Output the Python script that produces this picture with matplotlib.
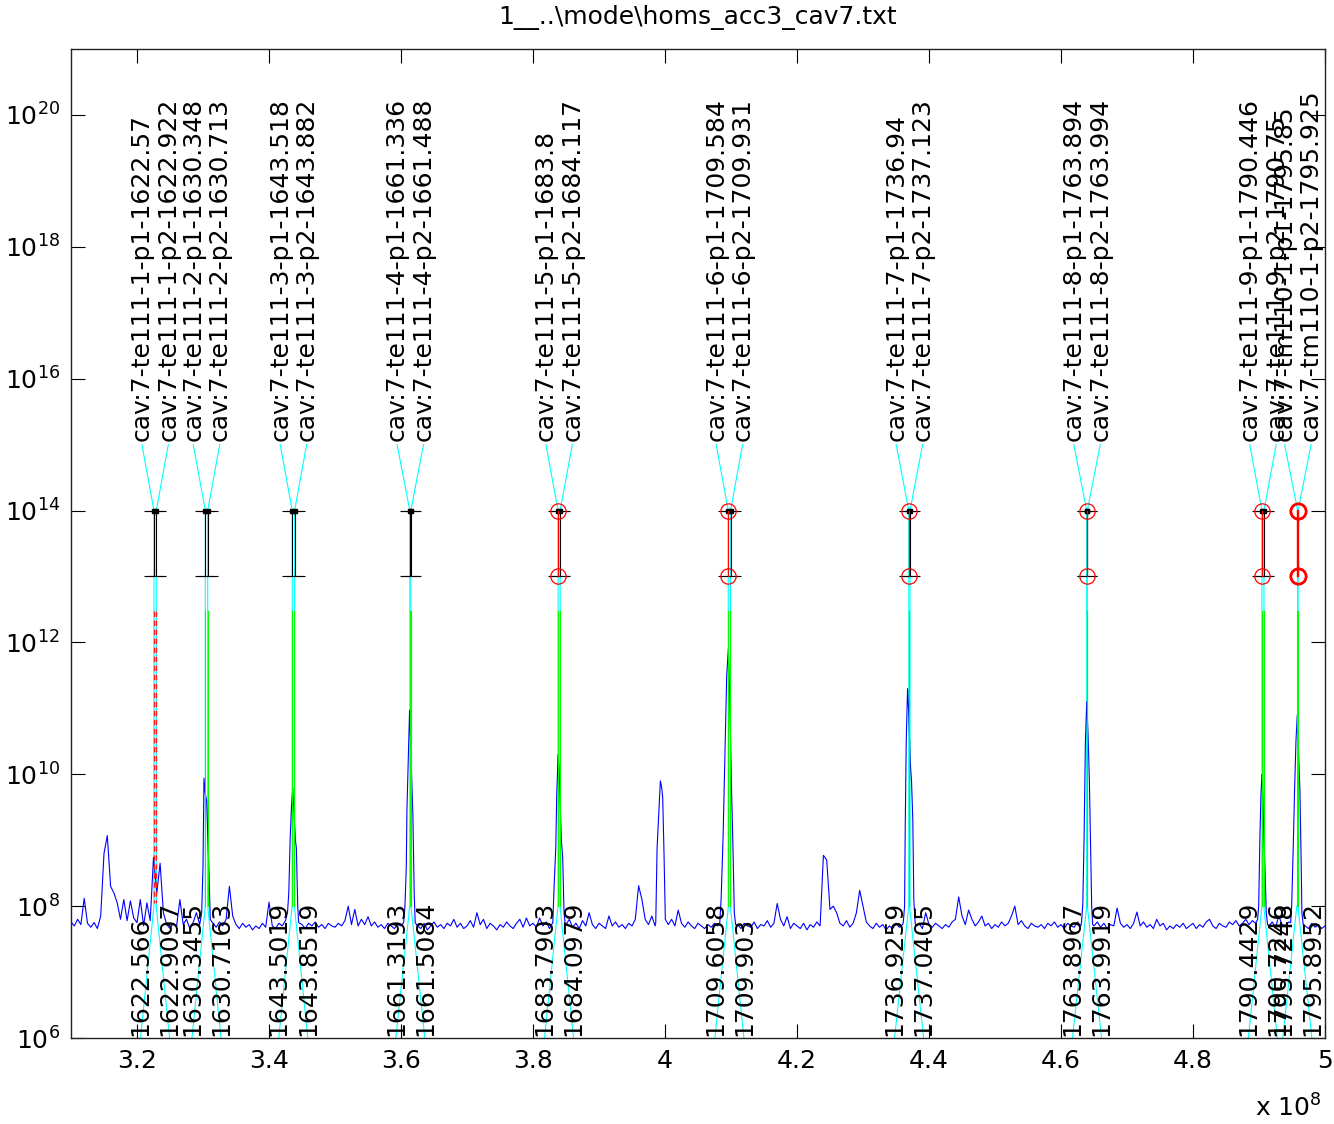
import numpy as np
import matplotlib
matplotlib.use('Agg')
import matplotlib.pyplot as plt
from matplotlib.ticker import FixedLocator, NullLocator

plt.rcParams['font.family'] = ['DejaVu Sans']
plt.rcParams['mathtext.default'] = 'regular'

TITLE = r"1__..\mode\homs_acc3_cav7.txt"
LO_MHZ = 1300.0  # mixer offset: axis = (f - LO) in Hz

# ---- mode table (predicted / measured, MHz) ----
mode_names = ['te111-1-p1', 'te111-1-p2', 'te111-2-p1', 'te111-2-p2',
              'te111-3-p1', 'te111-3-p2', 'te111-4-p1', 'te111-4-p2',
              'te111-5-p1', 'te111-5-p2', 'te111-6-p1', 'te111-6-p2',
              'te111-7-p1', 'te111-7-p2', 'te111-8-p1', 'te111-8-p2',
              'te111-9-p1', 'te111-9-p2', 'tm110-1-p1', 'tm110-1-p2']
pred_freq = ['1622.57', '1622.922', '1630.348', '1630.713',
             '1643.518', '1643.882', '1661.336', '1661.488',
             '1683.8', '1684.117', '1709.584', '1709.931',
             '1736.94', '1737.123', '1763.894', '1763.994',
             '1790.446', '1790.75', '1795.85', '1795.925']
meas_freq = ['1622.566', '1622.9097', '1630.3455', '1630.7163',
             '1643.5019', '1643.8519', '1661.3193', '1661.5084',
             '1683.7903', '1684.0979', '1709.6058', '1709.903',
             '1736.9259', '1737.0405', '1763.8967', '1763.9919',
             '1790.4429', '1790.7246', '1795.7248', '1795.8952']
# 0 = not matched, 1 = matched, 2 = matched + fitted, 3 = fitted only
status = [0, 0, 1, 1, 1, 1, 1, 1, 2, 1, 2, 1, 2, 1, 2, 1, 2, 1, 3, 3]
bar_low = 1e13
bar_high = 1e14

# ---- measured spectrum: log10 amplitude on a 0.5 MHz grid from 310 MHz ----
spec_start_mhz = 310.0
spec_step_mhz = 0.5
spec_log = [
    7.76, 7.70, 7.80, 7.72, 8.12, 7.74, 7.68, 7.75, 7.66, 7.85, 8.80, 9.07, 8.30, 8.20, 8.05, 7.80, 8.10, 7.78, 8.08, 7.82,
    7.75, 8.10, 7.70, 8.05, 7.78, 8.74, 8.20, 8.65, 7.90, 7.72, 7.66, 7.74, 7.70, 8.10, 7.72, 7.80, 7.66, 7.75, 7.90, 7.72,
    7.72, 7.72, 7.72, 7.74, 7.68, 7.76, 7.70, 7.80, 8.30, 7.85, 7.72, 7.66, 7.74, 7.68, 7.72, 7.64, 7.70, 7.66, 7.74, 7.68,
    8.06, 7.70, 7.66, 7.74, 7.70, 7.78, 7.70, 7.70, 7.70, 7.70, 7.72, 7.66, 7.74, 7.70, 7.76, 7.68, 7.72, 7.66, 7.74, 7.70,
    7.68, 7.74, 7.70, 7.78, 8.00, 7.72, 7.95, 7.70, 7.80, 7.72, 7.84, 7.70, 7.76, 7.68, 7.72, 7.66, 7.74, 7.70, 7.66, 7.72,
    7.70, 7.70, 7.70, 7.70, 7.70, 7.70, 7.66, 7.74, 7.64, 7.70, 7.76, 7.68, 7.72, 7.66, 7.74, 7.70, 7.80, 7.68, 7.74, 7.66,
    7.70, 7.78, 7.68, 7.90, 7.72, 7.80, 7.66, 7.74, 7.70, 7.64, 7.72, 7.68, 7.76, 7.70, 7.66, 7.74, 7.80, 7.68, 7.82, 7.70,
    7.74, 7.68, 7.82, 7.70, 7.76, 7.66, 7.70, 7.70, 7.70, 7.70, 7.72, 7.80, 7.68, 7.74, 7.66, 7.78, 7.70, 7.90, 7.72, 7.66,
    7.74, 7.70, 7.66, 7.85, 7.70, 7.76, 7.68, 7.72, 7.66, 7.74, 7.70, 7.80, 8.31, 8.10, 7.80, 7.72, 7.85, 7.70, 7.70, 7.70,
    7.70, 7.72, 7.80, 7.70, 7.94, 7.74, 7.68, 7.76, 7.70, 7.66, 7.74, 7.70, 7.66, 7.72, 7.68, 7.74, 7.70, 7.70, 7.70, 7.70,
    7.70, 7.70, 7.72, 7.66, 7.74, 7.70, 7.68, 7.76, 7.66, 7.72, 7.70, 7.78, 7.68, 7.74, 8.04, 7.80, 7.70, 7.84, 7.66, 7.74,
    7.70, 7.66, 7.74, 7.64, 7.72, 7.68, 7.76, 7.70, 8.77, 8.70, 7.95, 8.00, 7.90, 7.74, 7.70, 7.78, 7.68, 7.74, 7.90, 8.24,
    8.00, 7.76, 7.70, 7.66, 7.74, 7.68, 7.72, 7.64, 7.70, 7.66, 7.74, 7.68, 7.72, 7.70, 7.70, 7.70, 7.70, 7.74, 7.66, 7.90,
    7.72, 7.68, 7.74, 7.70, 7.66, 7.72, 7.68, 7.76, 7.80, 8.14, 7.85, 7.72, 7.94, 7.80, 7.70, 7.76, 7.85, 7.70, 7.74, 7.66,
    7.72, 7.68, 7.76, 7.70, 7.74, 7.85, 8.00, 7.72, 7.78, 7.70, 7.66, 7.74, 7.70, 7.68, 7.72, 7.66, 7.74, 7.70, 7.76, 7.68,
    7.72, 7.66, 7.74, 7.70, 7.68, 7.76, 7.70, 7.70, 7.70, 7.70, 7.70, 7.76, 7.68, 7.74, 7.66, 7.72, 7.70, 7.97, 7.74, 7.68,
    7.72, 7.66, 7.74, 7.91, 7.70, 7.76, 7.68, 7.72, 7.66, 7.80, 7.70, 7.74, 7.64, 7.70, 7.66, 7.72, 7.68, 7.74, 7.66, 7.70,
    7.74, 7.66, 7.72, 7.68, 7.76, 7.80, 7.70, 7.66, 7.74, 7.70, 7.68, 7.76, 7.72, 7.78, 7.70, 7.74, 7.80, 7.72, 7.78, 7.74,
    7.70, 7.70, 7.70, 7.70, 7.76, 7.68, 7.85, 7.72, 7.70, 7.76, 7.70, 7.70, 7.70, 7.70, 7.70, 7.66, 7.74, 7.68, 7.72, 7.66,
    7.70,
]
# resonance peaks at finer resolution (MHz, log10 amplitude)
peak_f = [
    [329.8, 330.0, 330.15, 330.35, 330.55, 330.75, 330.9, 331.1],
    [342.8, 343.0, 343.2, 343.4, 343.6, 343.8, 344.0, 344.15, 344.35, 344.5],
    [360.4, 360.6, 360.8, 360.9, 361.1, 361.3, 361.45, 361.65, 361.8, 362.0, 362.15],
    [383.0, 383.2, 383.45, 383.6, 383.8, 383.95, 384.15, 384.3, 384.5, 384.7, 384.9],
    [398.6, 398.8, 399.1, 399.3, 399.5, 399.65, 399.85, 400.05],
    [408.3, 408.5, 408.8, 409.1, 409.35, 409.6, 409.8, 410.05, 410.3, 410.5, 410.7],
    [436.1, 436.3, 436.4, 436.55, 436.75, 436.95, 437.15, 437.35, 437.55, 437.7, 437.9],
    [463.1, 463.3, 463.5, 463.7, 463.9, 464.1, 464.3, 464.45, 464.65, 464.8],
    [489.8, 489.95, 490.15, 490.3, 490.45, 490.6, 490.75, 490.9, 491.1, 491.3],
    [494.8, 494.95, 495.2, 495.4, 495.6, 495.8, 496.0, 496.2, 496.4, 496.5, 496.7],
]
peak_v = [
    [7.90, 8.60, 9.94, 9.70, 9.60, 9.00, 8.54, 7.80],
    [7.90, 8.20, 9.00, 9.50, 9.79, 9.40, 9.00, 8.88, 8.00, 7.75],
    [7.75, 8.00, 8.60, 9.46, 10.20, 10.97, 10.50, 9.90, 9.38, 8.20, 7.75],
    [7.75, 8.30, 8.88, 9.70, 10.30, 10.10, 9.50, 9.00, 8.74, 7.90, 7.70],
    [7.75, 8.88, 9.50, 9.90, 9.80, 9.65, 8.80, 7.80],
    [7.75, 8.10, 9.05, 10.40, 11.50, 11.90, 11.20, 9.91, 8.88, 7.90, 7.72],
    [7.75, 8.00, 9.20, 10.50, 11.30, 10.90, 10.20, 9.90, 9.30, 8.09, 7.75],
    [7.75, 8.02, 9.05, 10.50, 11.10, 10.60, 9.90, 9.12, 8.00, 7.72],
    [7.80, 8.00, 9.10, 9.70, 10.00, 9.60, 9.00, 8.59, 7.90, 7.72],
    [7.75, 8.00, 8.95, 9.80, 10.50, 10.90, 10.30, 9.76, 8.60, 7.90, 7.72],
]

x_ticks = [3.2e8, 3.4e8, 3.6e8, 3.8e8, 4.0e8, 4.2e8, 4.4e8, 4.6e8, 4.8e8, 5.0e8]
x_tick_labels = ['3.2', '3.4', '3.6', '3.8', '4', '4.2', '4.4', '4.6', '4.8', '5']
y_ticks = [1e6, 1e8, 1e10, 1e12, 1e14, 1e16, 1e18, 1e20]
y_tick_labels = ['$10^{6}$', '$10^{8}$', '$10^{10}$', '$10^{12}$', '$10^{14}$',
                 '$10^{16}$', '$10^{18}$', '$10^{20}$']

# ---- build spectrum ----
base_f = spec_start_mhz + spec_step_mhz * np.arange(len(spec_log))
base_v = np.array(spec_log)
keep = np.ones(len(base_f), bool)
for pf in peak_f:
    keep &= ~((base_f >= min(pf)) & (base_f <= max(pf)))
f_all = np.concatenate([base_f[keep]] + [np.array(p) for p in peak_f])
v_all = np.concatenate([base_v[keep]] + [np.array(p) for p in peak_v])
order = np.argsort(f_all)
spec_x = f_all[order] * 1e6
spec_y = 10.0 ** v_all[order]

FS = 18
W, H = 1334, 1124
fig = plt.figure(figsize=(W / 100, H / 100), dpi=100)
ax = fig.add_axes([71 / W, (H - 1038) / H, (1325 - 71) / W, (1038 - 49) / H])
ax.set_yscale('log')
ax.set_xlim(3.1e8, 5.0e8)
ax.set_ylim(1e6, 1e21)

px = (np.array([float(s) for s in pred_freq]) - LO_MHZ) * 1e6
mx = (np.array([float(s) for s in meas_freq]) - LO_MHZ) * 1e6
n = len(mode_names)

# label anchor positions: pairs spread around the pair centre
top_lx = np.zeros(n)
bot_lx = np.zeros(n)
for i in range(0, n, 2):
    c = (px[i] + px[i + 1]) / 2
    top_lx[i], top_lx[i + 1] = c - 2.0e6, c + 2.0e6
    cm = (mx[i] + mx[i + 1]) / 2
    bot_lx[i], bot_lx[i + 1] = cm - 2.2e6, cm + 2.2e6

CYAN = '#00ffff'
LW = 0.8

# cyan leader lines
for i in range(n):
    ax.plot([bot_lx[i], mx[i], px[i], px[i], top_lx[i]],
            [1e6, 1e8, 1e8, bar_high, 10 ** 15.0],
            color=CYAN, lw=LW, zorder=2)

# spectrum
ax.plot(spec_x, spec_y, color='#0000ff', lw=LW, zorder=3)

# green / red-dashed markers for measured peaks
for i in range(n):
    if status[i] == 0:
        ax.plot([mx[i], mx[i]], [10 ** 12.47, 10 ** 8.05], color='#ff2020',
                lw=1.0, ls=(0, (4, 2.5)), zorder=4)
    else:
        ax.plot([mx[i], mx[i]], [10 ** 12.47, 1e8], color='#00ff00', lw=LW, zorder=4)

# error bars
for i in range(n):
    if status[i] != 3:
        ax.errorbar([px[i]], [np.sqrt(bar_low * bar_high)],
                    yerr=[[np.sqrt(bar_low * bar_high) - bar_low],
                          [bar_high - np.sqrt(bar_low * bar_high)]],
                    fmt='none', ecolor='black', elinewidth=LW, capsize=7.5,
                    capthick=LW, zorder=5)
        ax.plot([px[i]], [bar_high], marker='s', ms=2.5, color='black', zorder=6)
for i in range(n):
    if status[i] == 2:
        ax.plot([px[i], px[i]], [bar_low, bar_high], color='#ff0000', lw=LW, zorder=6)
        ax.plot([px[i], px[i]], [bar_low, bar_high], ls='none', marker='o', ms=11,
                mfc='none', mec='#ff0000', mew=0.9, zorder=7)
    elif status[i] == 3:
        ax.plot([px[i], px[i]], [bar_low, bar_high], color='#ff0000', lw=1.6, zorder=6)
        ax.plot([px[i], px[i]], [bar_low, bar_high], ls='none', marker='o', ms=11,
                mfc='none', mec='#ff0000', mew=1.8, zorder=7)

# labels
for i in range(n):
    ax.text(top_lx[i], 10 ** 15.05, 'cav:7-%s-%s' % (mode_names[i], pred_freq[i]),
            rotation=90, ha='center', va='bottom', fontsize=FS, zorder=8)
    ax.text(bot_lx[i], 1.08e6, meas_freq[i], rotation=90, ha='center',
            va='bottom', fontsize=FS, zorder=8)

ax.xaxis.set_major_locator(FixedLocator(x_ticks))
ax.set_xticklabels(x_tick_labels)
ax.yaxis.set_major_locator(FixedLocator(y_ticks))
ax.set_yticklabels(y_tick_labels)
ax.yaxis.set_minor_locator(NullLocator())
ax.xaxis.set_minor_locator(NullLocator())
ax.tick_params(direction='in', length=10, width=0.8, top=True, right=True,
               labelsize=FS, pad=8)
for s in ax.spines.values():
    s.set_linewidth(1.0)
    s.set_color('#222222')

fig.text(698 / W, 1 - 18 / H, TITLE, ha='center', va='center', fontsize=FS)
fig.text(1322 / W, 1 - 1108 / H, 'x 10$^{8}$', ha='right', va='center', fontsize=FS)

fig.savefig('out.png', dpi=100, facecolor='white')
